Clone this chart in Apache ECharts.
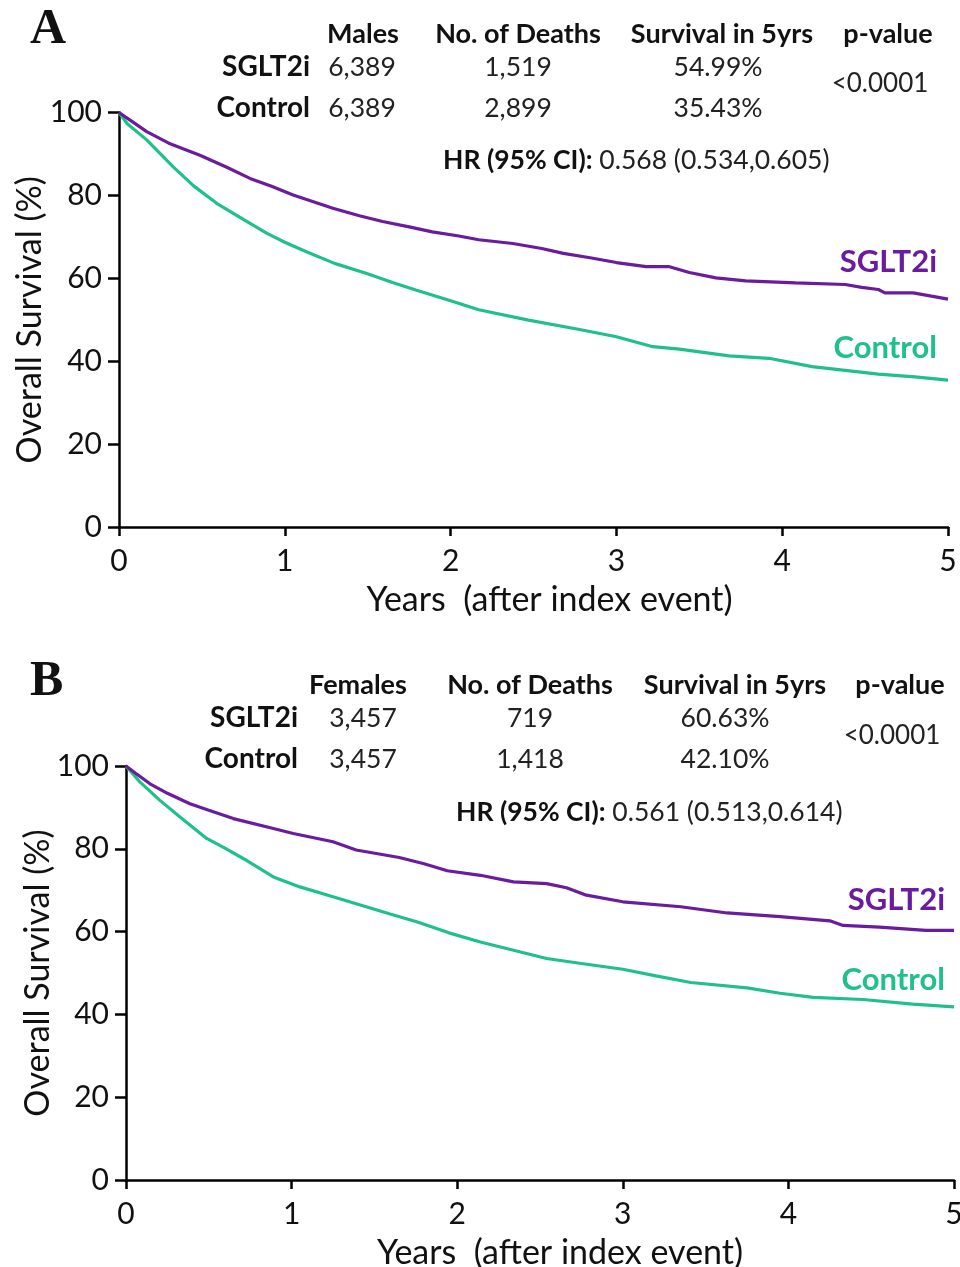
<!DOCTYPE html>
<html>
<head>
<meta charset="utf-8">
<script src="https://cdn.jsdelivr.net/npm/echarts@6/dist/echarts.min.js"></script>
<style>html,body{margin:0;padding:0;background:#fff}#c{width:960px;height:1267px}</style>
</head>
<body>
<div id="c"></div>
<script>
// ---- Data ----
const yTicks = [0, 20, 40, 60, 80, 100];
const xTicks = [0, 1, 2, 3, 4, 5];

// Panel A (Males)
const maleSGLT2i = [[0,100],[0.08,97.8],[0.167,95.4],[0.3,92.6],[0.488,89.7],[0.65,86.8],[0.79,84.1],[0.92,82.2],[1.05,80.1],[1.29,76.9],[1.45,75.1],[1.59,73.7],[1.75,72.4],[1.89,71.2],[2.05,70.2],[2.17,69.3],[2.375,68.4],[2.55,67.2],[2.68,66.0],[2.85,64.9],[3.0,63.8],[3.18,62.8],[3.32,62.8],[3.44,61.4],[3.6,60.1],[3.78,59.4],[4.08,58.9],[4.38,58.5],[4.48,57.8],[4.58,57.3],[4.62,56.5],[4.79,56.5],[4.9,55.7],[5.0,54.99]];
const maleControl = [[0,100],[0.05,97.3],[0.167,93.4],[0.327,86.9],[0.45,82.3],[0.589,78.1],[0.75,74.2],[0.89,70.9],[1.0,68.7],[1.13,66.4],[1.3,63.6],[1.49,61.2],[1.65,59.0],[1.79,57.2],[2.0,54.6],[2.17,52.4],[2.47,49.9],[2.77,47.7],[3.0,45.9],[3.22,43.5],[3.38,42.9],[3.68,41.3],[3.92,40.7],[4.18,38.7],[4.58,36.9],[4.8,36.2],[5.0,35.43]];

// Panel B (Females)
const femaleSGLT2i = [[0,100],[0.06,98.2],[0.145,95.7],[0.25,93.4],[0.386,90.9],[0.5,89.3],[0.648,87.3],[0.89,84.9],[1.01,83.7],[1.25,81.7],[1.39,79.7],[1.65,77.9],[1.8,76.4],[1.94,74.7],[2.14,73.6],[2.34,72.0],[2.54,71.6],[2.66,70.6],[2.78,68.8],[3.0,67.2],[3.35,66.0],[3.63,64.5],[3.95,63.6],[4.25,62.6],[4.33,61.5],[4.55,61.1],[4.83,60.3],[5.0,60.3]];
const femaleControl = [[0,100],[0.08,96.3],[0.205,91.7],[0.326,87.7],[0.487,82.5],[0.6,80.1],[0.71,77.6],[0.89,73.2],[1.05,70.8],[1.25,68.4],[1.45,66.0],[1.6,64.2],[1.76,62.3],[1.95,59.7],[2.14,57.5],[2.34,55.5],[2.54,53.5],[2.75,52.3],[3.0,50.9],[3.2,49.3],[3.41,47.7],[3.75,46.4],[3.95,45.1],[4.15,44.1],[4.45,43.6],[4.75,42.5],[5.0,41.8]];

// Tables
const headA = ['Males', 'No. of Deaths', 'Survival in 5yrs', 'p-value'];
const rowsA = [['SGLT2i', '6,389', '1,519', '54.99%'], ['Control', '6,389', '2,899', '35.43%']];
const pA = '<0.0001';
const hrA = ['HR (95% CI):', ' 0.568 (0.534,0.605)'];
const headB = ['Females', 'No. of Deaths', 'Survival in 5yrs', 'p-value'];
const rowsB = [['SGLT2i', '3,457', '719', '60.63%'], ['Control', '3,457', '1,418', '42.10%']];
const pB = '<0.0001';
const hrB = ['HR (95% CI):', ' 0.561 (0.513,0.614)'];

const PURPLE = '#6a1b9e';
const GREEN = '#1fc08a';
const FONT = 'Lato';

const chart = echarts.init(document.getElementById('c'), null, {renderer: 'canvas'});

function xAxisDef(gi, shift) {
  return {
    type: 'value', gridIndex: gi, min: 0, max: 5, interval: 1,
    name: 'Years  (after index event)', nameLocation: 'middle', nameGap: 56, nameMoveOverlap: false,
    nameTextStyle: {fontFamily: FONT, fontSize: 34, color: '#111', padding: [0, 0, 0, shift]},
    axisLine: {show: true, onZero: false, lineStyle: {color: '#000', width: 2.5}},
    axisTick: {show: true, length: 9, lineStyle: {color: '#000', width: 2.5}},
    axisLabel: {fontFamily: FONT, fontSize: 30, color: '#111', margin: 19},
    splitLine: {show: false}
  };
}
function yAxisDef(gi, gap) {
  return {
    type: 'value', gridIndex: gi, min: 0, max: 100, interval: 20,
    name: 'Overall Survival (%)', nameLocation: 'middle', nameGap: gap, nameMoveOverlap: false,
    nameTextStyle: {fontFamily: FONT, fontSize: 34, color: '#111'},
    axisLine: {show: true, lineStyle: {color: '#000', width: 2.5}},
    axisTick: {show: true, length: 11, lineStyle: {color: '#000', width: 2.5}},
    axisLabel: {fontFamily: FONT, fontSize: 30, color: '#111', margin: 17},
    splitLine: {show: false}
  };
}
function lineSeries(data, color, gi) {
  return {
    type: 'line', xAxisIndex: gi, yAxisIndex: gi, data: data, showSymbol: false,
    lineStyle: {color: color, width: 3.2}, itemStyle: {color: color}, animation: false, silent: true
  };
}

function tableGraphics(letterY, letter, top, head, headX, rows, rowLabelRight, colX, p, pX, pY, hr, hrX, hrY, rowY) {
  const g = [];
  g.push({type: 'text', x: 30, y: letterY, style: {text: letter, font: 'bold 50px "Liberation Serif", "DejaVu Serif", serif', fill: '#111', textVerticalAlign: 'middle'}});
  head.forEach((h, i) => g.push({type: 'text', x: headX[i], y: top, style: {text: h, font: 'bold 27px ' + FONT, fill: '#111', textAlign: 'center', textVerticalAlign: 'middle'}}));
  rows.forEach((r, ri) => {
    g.push({type: 'text', x: rowLabelRight, y: rowY[ri], style: {text: r[0], font: 'bold 28px ' + FONT, fill: '#111', textAlign: 'right', textVerticalAlign: 'middle'}});
    for (let c = 1; c < r.length; c++) {
      g.push({type: 'text', x: colX[c - 1], y: rowY[ri], style: {text: r[c], font: '26.5px ' + FONT, fill: '#222', textAlign: 'center', textVerticalAlign: 'middle'}});
    }
  });
  g.push({type: 'text', x: pX, y: pY, style: {text: p, font: '26px ' + FONT, fill: '#222', textAlign: 'center', textVerticalAlign: 'middle'}});
  g.push({type: 'text', x: hrX, y: hrY, style: {
    text: '{b|' + hr[0] + '}{n|' + hr[1] + '}', textVerticalAlign: 'middle',
    rich: {b: {font: 'bold 26.5px ' + FONT, fill: '#111', color: '#111'}, n: {font: '26.5px ' + FONT, fill: '#222', color: '#222'}}
  }});
  return g;
}

const graphics = [].concat(
  tableGraphics(30, 'A', 34, headA, [363, 518, 722, 888], rowsA, 310, [362, 518, 718], pA, 880, 84, hrA, 443, 160, [67, 108]),
  tableGraphics(682, 'B', 685, headB, [358, 530, 735, 900], rowsB, 298, [363, 530, 725], pB, 892, 736, hrB, 456, 812, [718, 759]),
  [
    {type: 'text', x: 937, y: 262, style: {text: 'SGLT2i', font: 'bold 31px ' + FONT, fill: PURPLE, textAlign: 'right', textVerticalAlign: 'middle'}},
    {type: 'text', x: 937, y: 348, style: {text: 'Control', font: 'bold 31px ' + FONT, fill: GREEN, textAlign: 'right', textVerticalAlign: 'middle'}},
    {type: 'text', x: 945, y: 900, style: {text: 'SGLT2i', font: 'bold 31px ' + FONT, fill: PURPLE, textAlign: 'right', textVerticalAlign: 'middle'}},
    {type: 'text', x: 945, y: 980, style: {text: 'Control', font: 'bold 31px ' + FONT, fill: GREEN, textAlign: 'right', textVerticalAlign: 'middle'}}
  ]
);

chart.setOption({
  animation: false,
  backgroundColor: '#fff',
  grid: [
    {left: 119, top: 112.5, width: 829, height: 414.5, containLabel: false, outerBoundsMode: 'none'},
    {left: 126, top: 766, width: 828, height: 414, containLabel: false, outerBoundsMode: 'none'}
  ],
  xAxis: [xAxisDef(0, 32), xAxisDef(1, 40)],
  yAxis: [yAxisDef(0, 72), yAxisDef(1, 71)],
  series: [
    lineSeries(maleControl, GREEN, 0),
    lineSeries(maleSGLT2i, PURPLE, 0),
    lineSeries(femaleControl, GREEN, 1),
    lineSeries(femaleSGLT2i, PURPLE, 1)
  ],
  graphic: graphics
});
</script>
</body>
</html>
